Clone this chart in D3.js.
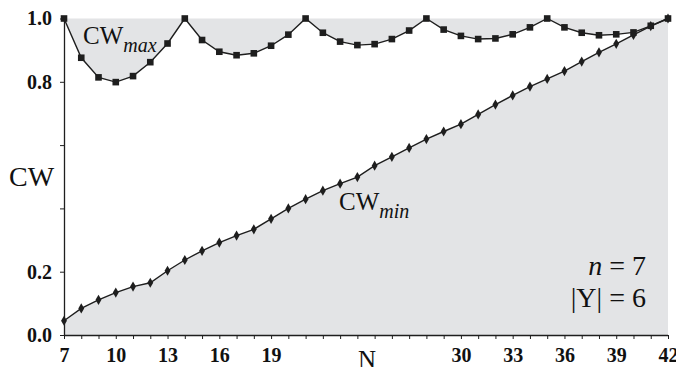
<!DOCTYPE html>
<html><head><meta charset="utf-8">
<script src="https://cdn.jsdelivr.net/npm/d3@7"></script>
<style>
html,body{margin:0;padding:0;background:#fff;}
svg{display:block;}
svg text{font-family:"Liberation Serif","DejaVu Serif","Times New Roman",serif;}
</style></head>
<body><svg id="c" width="676" height="367"></svg>
<script>
const nValues = [7,8,9,10,11,12,13,14,15,16,17,18,19,20,21,22,23,24,25,26,27,28,29,30,31,32,33,34,35,36,37,38,39,40,41,42];
const cwMax = [1.0,0.876,0.814,0.799,0.818,0.862,0.921,1.0,0.932,0.895,0.884,0.890,0.914,0.949,1.0,0.955,0.927,0.916,0.919,0.935,0.962,1.0,0.965,0.945,0.935,0.937,0.950,0.972,1.0,0.972,0.955,0.947,0.950,0.956,0.977,1.0];
const cwMin = [0.045,0.084,0.111,0.134,0.153,0.165,0.203,0.237,0.266,0.292,0.314,0.334,0.367,0.400,0.429,0.456,0.478,0.499,0.535,0.563,0.591,0.619,0.643,0.666,0.697,0.728,0.757,0.785,0.809,0.834,0.864,0.893,0.920,0.948,0.976,1.0];
const xTickLabels = [7,10,13,16,19,30,33,36,39,42];
const yTicks = [0.0,0.2,0.4,0.6,0.8,1.0];
const yTickLabels = [0.0,0.2,0.8,1.0];

const svg = d3.select("#c");
const x = d3.scaleLinear().domain([7,42]).range([64,668]);
const y = d3.scaleLinear().domain([0,1]).range([335,18.5]);
const maxData = nValues.map((n,i)=>({n, v:cwMax[i]}));
const minData = nValues.map((n,i)=>({n, v:cwMin[i]}));
const fill = "#e3e4e6", ink = "#1e1e1e";

// gray areas
svg.append("path").datum(maxData)
  .attr("d", d3.area().x(d=>x(d.n)).y0(y(1)).y1(d=>y(d.v)))
  .attr("fill", fill);
svg.append("path").datum(minData)
  .attr("d", d3.area().x(d=>x(d.n)).y0(y(0)).y1(d=>y(d.v)))
  .attr("fill", fill);

// axes
const xAxis = d3.axisBottom(x).tickValues(nValues).tickSize(4).tickPadding(9)
  .tickFormat(d => xTickLabels.includes(d) ? d : "");
const gx = svg.append("g").attr("transform","translate(0,335)").call(xAxis);
gx.attr("font-family",null);
gx.select(".domain").attr("d","M64,0.5H668").attr("stroke",ink).attr("stroke-width",1.3);
gx.selectAll(".tick line").attr("stroke",ink).attr("stroke-width",1);
gx.selectAll(".tick text").attr("font-weight","bold").attr("font-size",20).attr("fill","#111");

const yAxis = d3.axisLeft(y).tickValues(yTicks).tickSize(4).tickPadding(8)
  .tickFormat(d => yTickLabels.includes(d) ? d.toFixed(1) : "");
const gy = svg.append("g").attr("transform","translate(64,0)").call(yAxis);
gy.attr("font-family",null);
gy.select(".domain").attr("d","M0.5,"+y(1)+"V"+y(0)).attr("stroke",ink).attr("stroke-width",1.3);
gy.selectAll(".tick line").attr("stroke",ink).attr("stroke-width",1);
gy.selectAll(".tick text").attr("font-weight","bold").attr("font-size",20).attr("fill","#111");

// lines
const line = d3.line().x(d=>x(d.n)).y(d=>y(d.v));
svg.append("path").datum(maxData).attr("d",line).attr("fill","none").attr("stroke",ink).attr("stroke-width",1.4);
svg.append("path").datum(minData).attr("d",line).attr("fill","none").attr("stroke",ink).attr("stroke-width",1.4);

// markers
svg.append("g").selectAll("rect").data(maxData).join("rect")
  .attr("x",d=>x(d.n)-3.3).attr("y",d=>y(d.v)-3.3).attr("width",6.6).attr("height",6.6).attr("fill",ink);
svg.append("g").selectAll("path").data(minData).join("path")
  .attr("d", d3.symbol().type(d3.symbolDiamond).size(30))
  .attr("transform",d=>`translate(${x(d.n)},${y(d.v)})`).attr("fill",ink);

// labels
const lab = (tx,ty,main,sub) => {
  const t = svg.append("text").attr("x",tx).attr("y",ty).attr("font-size",25).attr("fill","#111");
  t.append("tspan").text(main);
  if (sub) t.append("tspan").attr("font-style","italic").attr("font-size",20).attr("dy",8).text(sub);
  return t;
};
lab(83,43.5,"CW","max");
lab(339,209.5,"CW","min");
svg.append("text").attr("x",9).attr("y",186).attr("font-size",28).attr("fill","#111").text("CW");
svg.append("text").attr("x",367).attr("y",368).attr("text-anchor","middle").attr("font-size",25).attr("fill","#111").text("N");

const t1 = svg.append("text").attr("x",646).attr("y",275).attr("text-anchor","end").attr("font-size",28).attr("fill","#111");
t1.append("tspan").attr("font-style","italic").text("n");
t1.append("tspan").text(" = 7");
svg.append("text").attr("x",646).attr("y",306.5).attr("text-anchor","end").attr("font-size",28).attr("fill","#111").text("|Y| = 6");
</script></body></html>
